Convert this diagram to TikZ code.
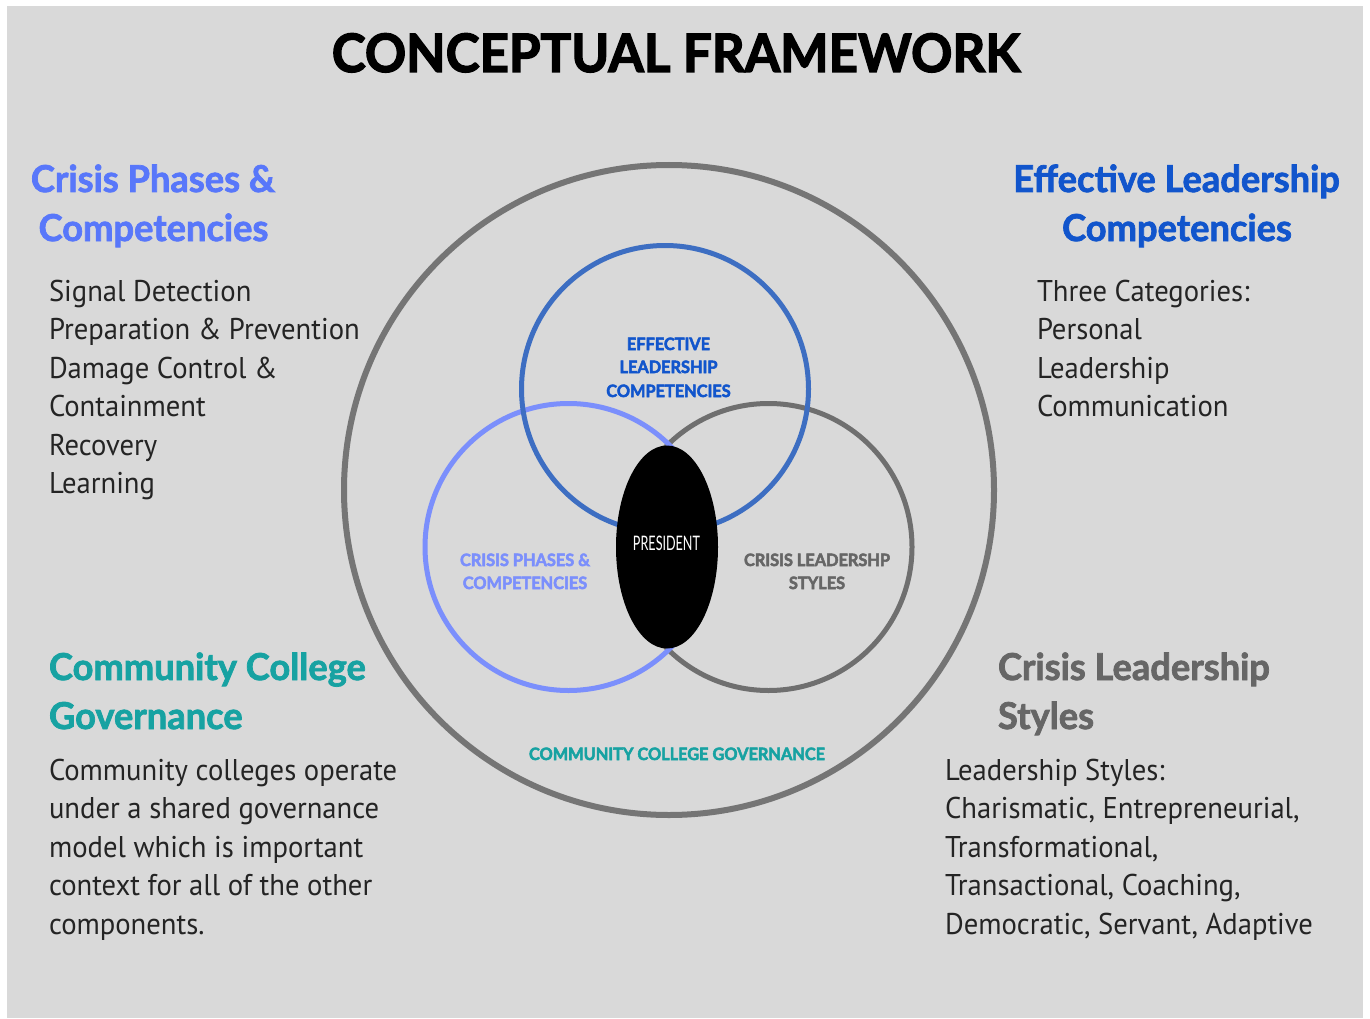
\documentclass[tikz,border=0pt]{standalone}
\usepackage{fontspec}
\setmainfont{Lato}
\newfontfamily\bodyfont{PT Sans}[FakeStretch=0.955]
\newfontfamily\titlefont{Lato}[BoldFeatures={FakeBold=2.5,FakeStretch=0.965}]
\newfontfamily\hfont{Lato}[BoldFeatures={FakeBold=2,FakeStretch=0.98}]
\newfontfamily\infont{Lato}[BoldFeatures={FakeBold=3,FakeStretch=0.96}]
\usetikzlibrary{shapes.geometric}
\definecolor{bg}{HTML}{D9D9D9}
\definecolor{outerc}{HTML}{757575}
\definecolor{dblue}{HTML}{3D6EC2}
\definecolor{lblue}{HTML}{7B8FFC}
\definecolor{grayc}{HTML}{6F6F6F}
\definecolor{hblue}{HTML}{5877FA}
\definecolor{effblue}{HTML}{1155CC}
\definecolor{teal}{HTML}{17A2A2}
\definecolor{hgray}{HTML}{666666}
\definecolor{bodycol}{HTML}{242424}
\begin{document}
\begin{tikzpicture}[x=1pt,y=-1pt,
  txt/.style={inner sep=0pt, outer sep=0pt},
  body/.style={txt, anchor=base west, text=bodycol, font=\bodyfont\fontsize{30}{36}\selectfont},
  head/.style={txt, anchor=base, font=\hfont\bfseries\fontsize{37}{44}\selectfont},
  headl/.style={head, anchor=base west},
  inlab/.style={txt, anchor=base, font=\infont\bfseries\fontsize{17}{20}\selectfont},
  ring/.style={circle, inner sep=0pt, minimum size=287pt, line width=5pt}]
\useasboundingbox (0,0) rectangle (1370,1019);
\fill[white] (0,0) rectangle (1370,1019);
\fill[bg] (7,6) rectangle (1363,1018);
% title
\node[txt, anchor=base, font=\titlefont\bfseries\fontsize{53}{60}\selectfont] (title) at (676,72) {CONCEPTUAL FRAMEWORK};
% circles
\node[circle, draw=outerc, line width=6pt, inner sep=0pt, minimum size=650pt] (outer) at (669,490) {};
\node[ring, draw=grayc] (cgray) at (768.5,547) {};
\node[ring, draw=lblue] (clblue) at (568.5,547) {};
\node[ring, draw=dblue] (cdblue) at (665,389) {};
\node[ellipse, fill=black, inner sep=0pt, minimum width=102pt, minimum height=203pt] (pres) at (667,547) {};
\node[txt, anchor=base, text=white, font=\fontsize{20}{22}\selectfont] (prestxt) at (666.5,550) {\scalebox{0.63}[1]{PRESIDENT}};
% inner labels
\node[inlab, text=effblue] (e1) at (668.5,350) {EFFECTIVE};
\node[inlab, text=effblue] (e2) at (668.5,373) {LEADERSHIP};
\node[inlab, text=effblue] (e3) at (668.5,397) {COMPETENCIES};
\node[inlab, text=lblue] (c1) at (525,566) {CRISIS PHASES \&};
\node[inlab, text=lblue] (c2) at (525,589) {COMPETENCIES};
\node[inlab, text=hgray] (s1) at (817,566) {CRISIS LEADERSHP};
\node[inlab, text=hgray] (s2) at (817,589) {STYLES};
\node[inlab, text=teal] (g1) at (677,760) {COMMUNITY COLLEGE GOVERNANCE};
% headings
\node[head, text=hblue] (h1a) at (153,192) {Crisis Phases \&};
\node[head, text=hblue] (h1b) at (153.5,241) {Competencies};
\node[head, text=effblue] (h2a) at (1176.5,192) {Effective Leadership};
\node[head, text=effblue] (h2b) at (1177,241) {Competencies};
\node[headl, text=teal] (h3a) at (49,680) {Community College};
\node[headl, text=teal] (h3b) at (49,729) {Governance};
\node[headl, text=hgray] (h4a) at (998,680) {Crisis Leadership};
\node[headl, text=hgray] (h4b) at (998,729) {Styles};
% body left top
\node[body] (b1) at (49,301) {Signal Detection};
\node[body] (b2) at (49,339.5) {Preparation \& Prevention};
\node[body] (b3) at (49,378) {Damage Control \&};
\node[body] (b4) at (49,416.5) {Containment};
\node[body] (b5) at (49,455) {Recovery};
\node[body] (b6) at (49,493.5) {Learning};
% body right top
\node[body] (r1) at (1037,301) {Three Categories:};
\node[body] (r2) at (1037,339.5) {Personal};
\node[body] (r3) at (1037,378) {Leadership};
\node[body] (r4) at (1037,416.5) {Communication};
% body left bottom
\node[body] (g1l) at (49,780) {Community colleges operate};
\node[body] (g2l) at (49,818.5) {under a shared governance};
\node[body] (g3l) at (49,857) {model which is important};
\node[body] (g4l) at (49,895.5) {context for all of the other};
\node[body] (g5l) at (49,934) {components.};
% body right bottom
\node[body] (s1r) at (945,780) {Leadership Styles:};
\node[body] (s2r) at (945,818.5) {Charismatic, Entrepreneurial,};
\node[body] (s3r) at (945,857) {Transformational,};
\node[body] (s4r) at (945,895.5) {Transactional, Coaching,};
\node[body] (s5r) at (945,934) {Democratic, Servant, Adaptive};
\end{tikzpicture}
\end{document}
